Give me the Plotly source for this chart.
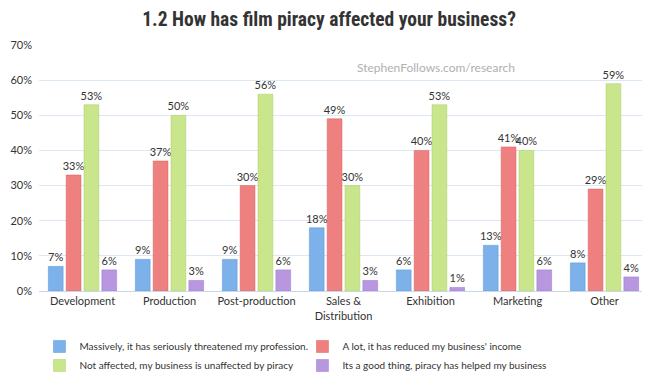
import plotly.graph_objects as go

categories = ["Development", "Production", "Post-production", "Sales &<br>Distribution",
              "Exhibition", "Marketing", "Other"]
series_names = [
    "Massively, it has seriously threatened my profession.",
    "A lot, it has reduced my business' income",
    "Not affected, my business is unaffected by piracy",
    "Its a good thing, piracy has helped my business",
]
massively = [7, 9, 9, 18, 6, 13, 8]
a_lot = [33, 37, 30, 49, 40, 41, 29]
not_affected = [53, 50, 56, 30, 53, 40, 59]
good_thing = [6, 3, 6, 3, 1, 6, 4]
colors = ["#7db1ea", "#ee8080", "#c9e68c", "#b897e0"]
line_colors = ["#5a95d8", "#dd5e5e", "#a9cf62", "#9a78c8"]
y_ticks = [0, 10, 20, 30, 40, 50, 60, 70]

fig = go.Figure()
for name, vals, c, lc in zip(series_names, [massively, a_lot, not_affected, good_thing], colors, line_colors):
    fig.add_trace(go.Bar(
        x=categories, y=vals, name=name,
        marker=dict(color=c, line=dict(color=lc, width=0.5)),
        text=[f"{v}%" for v in vals], textposition="outside", cliponaxis=False,
        constraintext="none",
        textfont=dict(size=11, color="#333333", family="Lato"),
    ))

# The page body has an 8px default margin, so the figure is sized 8px smaller.
fig.update_layout(
    width=642, height=369,
    paper_bgcolor="white", plot_bgcolor="white",
    margin=dict(l=28, r=2, t=37, b=86),
    barmode="group", bargap=0.18, bargroupgap=0.17,
    font=dict(family="Lato", size=11, color="#333333"),
    title=dict(text="<b>1.2 How has film piracy affected your business?</b>",
               x=0.5, xanchor="center", yref="container", y=0.97, yanchor="middle",
               font=dict(family="Roboto Condensed, DejaVu Sans Condensed, Liberation Sans", size=19.5, color="#333333")),
    showlegend=True,
    legend=dict(orientation="h", xref="container", x=0.049, xanchor="left",
                yref="container", y=0.122, yanchor="top",
                entrywidth=218, entrywidthmode="pixels", traceorder="normal",
                font=dict(size=10, color="#333333", family="Lato"), itemwidth=30,
                tracegroupgap=0),
    xaxis=dict(showgrid=False, showline=True, linecolor="#c8d8ec", ticks="",
               tickfont=dict(size=11, color="#333333", family="Lato")),
    yaxis=dict(range=[0, 70], tickvals=y_ticks, ticktext=[f"{t}%" for t in y_ticks],
               showgrid=True, gridcolor="#dde8f6", gridwidth=1, zeroline=False,
               tickfont=dict(size=11, color="#333333", family="Lato"), ticklabelstandoff=6),
    annotations=[dict(text="StephenFollows.com/research", xref="paper", yref="paper",
                      x=0.652, y=0.947, showarrow=False,
                      font=dict(size=12, color="#b0b0b0", family="Lato"))],
)

fig.write_html("out.html")
